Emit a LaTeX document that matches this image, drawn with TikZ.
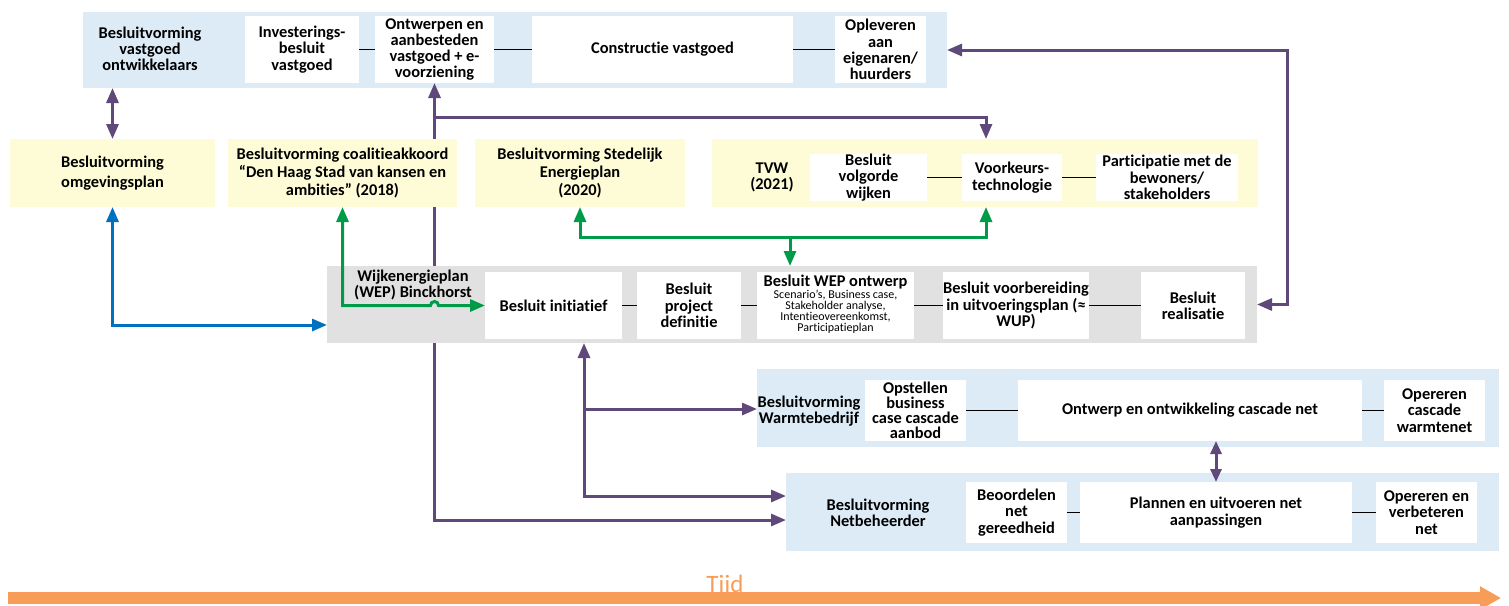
\documentclass[tikz,border=0pt]{standalone}
\usepackage{fontspec}
\setmainfont{Carlito}[Ligatures=NoCommon]
\usetikzlibrary{arrows.meta}
\definecolor{cPanelBlue}{RGB}{221,235,247}
\definecolor{cPanelYellow}{RGB}{254,252,214}
\definecolor{cPanelGray}{RGB}{225,225,225}
\definecolor{cPurple}{RGB}{94,73,122}
\definecolor{cGreen}{RGB}{0,155,72}
\definecolor{cBlue}{RGB}{0,112,192}
\definecolor{cOrange}{RGB}{247,157,87}
\newcommand\mainlbl{\bfseries\fontsize{16.4}{16.3}\selectfont}
\newcommand\tightlbl{\bfseries\fontsize{16.4}{15.2}\selectfont}
\newcommand\widelbl{\bfseries\fontsize{16.4}{18.2}\selectfont}
\newcommand\notelbl{\fontsize{12}{9.6}\selectfont}
\pgfdeclarelayer{back}
\pgfdeclarelayer{mid}
\pgfsetlayers{back,mid,main}

\begin{document}
\begin{tikzpicture}[x=1pt,y=-1pt,
  >={Triangle[length=15pt,width=12pt]},
  wh/.style 2 args={minimum width=#1pt,minimum height=#2pt},
  panelbox/.style={inner sep=0pt,outer sep=0pt,draw=none},
  stage/.style={inner sep=0pt,outer sep=0pt,fill=white,align=center,font=\mainlbl},
  headbox/.style={inner sep=0pt,outer sep=0pt,fill=cPanelYellow,align=center,font=\widelbl},
  lbl/.style={inner sep=0pt,outer sep=0pt,align=center,font=\mainlbl},
  link/.style={draw=black,line width=1.6pt},
  purline/.style={draw=cPurple,line width=3pt},
  grnline/.style={draw=cGreen,line width=3pt},
  bluline/.style={draw=cBlue,line width=3pt}]
\useasboundingbox (0,0) rectangle (1509,605);

% ---- property developers ----
\begin{pgfonlayer}{back}
\node[panelbox,fill=cPanelBlue,wh={864}{76}] (dev) at (515,50) {};
\end{pgfonlayer}
\node[lbl] (devlbl) at (150,49) {Besluitvorming\\vastgoed\\ontwikkelaars};
\node[stage,wh={114}{67}] (inv) at (302,49.5) {Investerings-\\besluit\\vastgoed};
\node[stage,wh={119}{67}] (ontw) at (434.5,49.5) {Ontwerpen en\\aanbesteden\\vastgoed + e-\\voorziening};
\node[stage,wh={261}{67}] (constr) at (662.5,49.5) {Constructie vastgoed};
\node[stage,wh={91}{67}] (oplev) at (880.5,49.5) {Opleveren\\aan\\eigenaren/\\huurders};
\draw[link] (inv.east) -- (ontw.west);
\draw[link] (ontw.east) -- (constr.west);
\draw[link] (constr.east) -- (oplev.west);

% ---- municipal decisions ----
\node[headbox,wh={205}{68}] (omg) at (112.5,173) {Besluitvorming\\[2pt]omgevingsplan};
\node[headbox,wh={229}{68}] (coal) at (342.5,173) {Besluitvorming coalitieakkoord\\“Den Haag Stad van kansen en\\ambities” (2018)};
\node[headbox,wh={210}{68}] (sep) at (580,173) {Besluitvorming Stedelijk\\Energieplan\\(2020)};
\node[panelbox,fill=cPanelYellow,wh={546}{68}] (tvw) at (985,173) {};
\node[lbl] (tvwlbl) at (772,177.5) {TVW\\(2021)};
\node[stage,wh={117}{47}] (bvw) at (868.5,177.5) {Besluit\\volgorde\\wijken};
\node[stage,wh={100}{47}] (vkt) at (1012,177.5) {Voorkeurs-\\technologie};
\node[stage,wh={142}{47}] (part) at (1167,177.5) {Participatie met de\\bewoners/\\stakeholders};
\draw[link] (bvw.east) -- (vkt.west);
\draw[link] (vkt.east) -- (part.west);

% ---- neighbourhood energy plan ----
\node[panelbox,fill=cPanelGray,wh={930}{77}] (wep) at (792,304.5) {};
\node[lbl] (weplbl) at (413,285) {Wijkenergieplan\\(WEP) Binckhorst};
\node[stage,wh={137}{67}] (init) at (553.5,305.5) {Besluit initiatief};
\node[stage,wh={104}{67}] (pdef) at (689,305.5) {Besluit\\project\\definitie};
\node[stage,wh={157}{67}] (wepo) at (835.5,305.5) {};
\node[lbl] (wepotitle) at (835.5,282) {Besluit WEP ontwerp};
\node[inner sep=0pt,align=center,font=\notelbl] (wepodetail) at (835.5,312) {Scenario’s, Business case,\\Stakeholder analyse,\\Intentieovereenkomst,\\Participatieplan};
\node[stage,wh={142}{67}] (voorb) at (1016,305.5) {Besluit voorbereiding\\in uitvoeringsplan (≈\\WUP)};
\node[stage,wh={104}{67}] (real) at (1193,305.5) {Besluit\\realisatie};
\draw[link] (init.east) -- (pdef.west);
\draw[link] (pdef.east) -- (wepo.west);
\draw[link] (wepo.east) -- (voorb.west);
\draw[link] (voorb.east) -- (real.west);

% ---- heat company ----
\node[panelbox,fill=cPanelBlue,wh={742}{78}] (warm) at (1128,408) {};
\node[lbl] (warmlbl) at (809,411) {Besluitvorming\\Warmtebedrijf};
\node[stage,font=\tightlbl,wh={101}{61}] (opst) at (915.5,410.5) {Opstellen\\business\\case cascade\\aanbod};
\node[stage,wh={344}{61}] (ontwk) at (1190,410.5) {Ontwerp en ontwikkeling cascade net};
\node[stage,wh={101}{61}] (opcw) at (1434.5,410.5) {Opereren\\cascade\\warmtenet};
\draw[link] (opst.east) -- (ontwk.west);
\draw[link] (ontwk.east) -- (opcw.west);

% ---- grid operator ----
\node[panelbox,fill=cPanelBlue,wh={713}{78}] (net) at (1142.5,512) {};
\node[lbl] (netlbl) at (878,513) {Besluitvorming\\Netbeheerder};
\node[stage,wh={101}{61}] (beo) at (1016.5,512.5) {Beoordelen\\net\\gereedheid};
\node[stage,wh={272}{61}] (plan) at (1216,512.5) {Plannen en uitvoeren net\\aanpassingen};
\node[stage,wh={101}{61}] (opvn) at (1426.5,512.5) {Opereren en\\verbeteren\\net};
\draw[link] (beo.east) -- (plan.west);
\draw[link] (plan.east) -- (opvn.west);

% ---- routing helpers ----
\coordinate (yBranch) at (0,117);
\coordinate (yGreen) at (0,237);
\coordinate (yBlue) at (0,325);
\coordinate (yWarm) at (0,409);
\coordinate (yNetA) at (0,496);
\coordinate (yNetB) at (0,520);
\coordinate (xTech) at (986,0);
\coordinate (xWep) at (790,0);
\coordinate (xInit) at (584,0);
\coordinate (xRight) at (1287,0);
\coordinate (xHop) at (430.5,0);

% ---- purple relations (the long ones run underneath the boxes) ----
\begin{pgfonlayer}{mid}
\draw[purline,<->] (omg.north |- dev.south) -- (omg.north);
\draw[purline,<->] (ontw.south) -- (ontw.south |- yNetB) -- (net.west |- yNetB);
\draw[purline,->] (ontw.south |- yBranch) -- (xTech |- yBranch) -- (xTech |- tvw.north);
\draw[purline,<->] (dev.east) -- (xRight |- dev.east) -- (xRight |- wep.east) -- (wep.east);
\draw[purline,<->] (xInit |- wep.south) -- (xInit |- yNetA) -- (net.west |- yNetA);
\draw[purline,->] (xInit |- yWarm) -- (warm.west |- yWarm);
\end{pgfonlayer}
\draw[purline,{Triangle[length=13pt,width=11pt]}-{Triangle[length=13pt,width=11pt]}]
  (plan.north |- ontwk.south) -- (plan.north);

% ---- green relations ----
\draw[grnline,<->] (coal.south) -- (coal.south |- init.west) -- (xHop |- init.west)
  arc[start angle=180,end angle=360,radius=4] -- (init.west);
\draw[grnline,<->] (sep.south) -- (sep.south |- yGreen) -- (xTech |- yGreen) -- (xTech |- tvw.south);
\draw[grnline,->] (xWep |- yGreen) -- (xWep |- wep.north);

% ---- blue relation ----
\draw[bluline,<->] (omg.south) -- (omg.south |- yBlue) -- (wep.west |- yBlue);

% ---- time axis ----
\coordinate (tStart) at (8,598);
\coordinate (tEnd) at (1501,598);
\draw[draw=cOrange,line width=12pt,-{Triangle[length=21pt,width=22pt]}] (tStart) -- (tEnd);
\node[inner sep=0pt,anchor=base,text=cOrange,font=\fontsize{25}{25}\selectfont] (tijd) at (725,592) {Tijd};
\end{tikzpicture}
\end{document}
